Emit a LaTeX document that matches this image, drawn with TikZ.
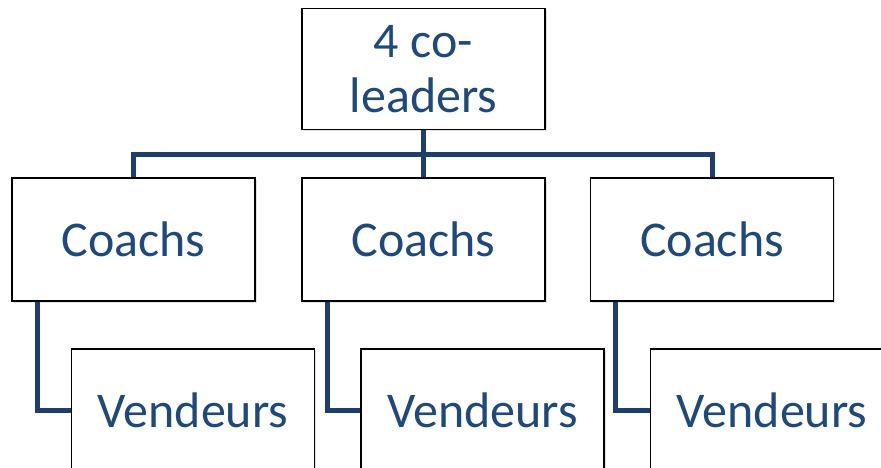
\documentclass[tikz,border=0pt]{standalone}
\usepackage{fontspec}
\setmainfont{Carlito}
\usetikzlibrary{calc,shadows}
\definecolor{orgtext}{HTML}{1F497D}
\definecolor{orgline}{HTML}{1E3F6D}
\tikzset{
  orgbox/.style={draw=black, line width=1.4pt, fill=white, text=orgtext,
    minimum width=243pt, minimum height=122pt, inner sep=0pt, align=center,
    font=\fontsize{50}{55}\selectfont,
    drop shadow={shadow xshift=1.5pt, shadow yshift=-1.5pt, opacity=0.22}},
  conn/.style={draw=orgline, line width=5pt}
}
\begin{document}
\begin{tikzpicture}[x=1pt,y=-1pt]
\useasboundingbox (0,0) rectangle (881,468);
\clip (0,0) rectangle (881,468);
% top level
\node[orgbox, minimum height=121pt] (top) at (423.5,69) {4 co-\\leaders};
% second level
\node[orgbox, minimum height=123pt] (c1) at (133.5,239.5) {Coachs};
\node[orgbox, minimum height=123pt] (c2) at (423.5,239.5) {Coachs};
\node[orgbox, minimum height=123pt] (c3) at (712,239.5) {Coachs};
% third level
\node[orgbox] (v1) at (193,410) {Vendeurs};
\node[orgbox] (v2) at (482.5,410) {Vendeurs};
\node[orgbox] (v3) at (772,410) {Vendeurs};
% bar joining the coaches to the top box
\coordinate (bar) at (0,155);
\draw[conn] (top.south) -- (top.south |- bar);
\draw[conn] (c1.north) -- (c1.north |- bar) -- (c3.north |- bar) -- (c3.north);
\draw[conn] (c2.north) -- (c2.north |- bar);
% elbows from each coach box to its sellers
\draw[conn] ($(c1.south west)+(26,0)$) |- (v1.west);
\draw[conn] ($(c2.south west)+(26,0)$) |- (v2.west);
\draw[conn] ($(c3.south west)+(26,0)$) |- (v3.west);
\end{tikzpicture}
\end{document}
